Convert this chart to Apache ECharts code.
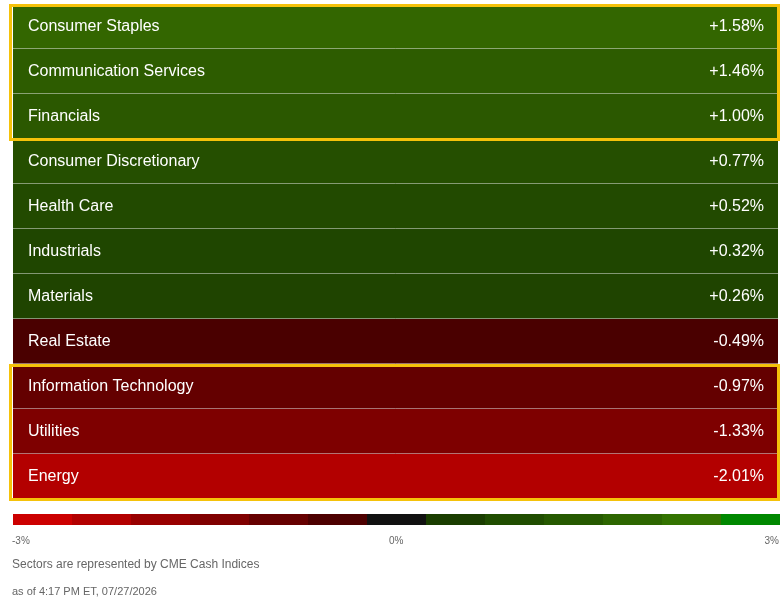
<!DOCTYPE html>
<html><head><meta charset="utf-8">
<script src="https://cdn.jsdelivr.net/npm/echarts@6/dist/echarts.min.js"></script>
<style>html,body{margin:0;padding:0;background:#fff}#c{width:784px;height:602px}</style>
</head><body><div id="c"></div>
<script>
const sectors = ['Consumer Staples','Communication Services','Financials','Consumer Discretionary','Health Care','Industrials','Materials','Real Estate','Information Technology','Utilities','Energy'];
const changes = [1.58,1.46,1.00,0.77,0.52,0.32,0.26,-0.49,-0.97,-1.33,-2.01];
const rowColors = ['#336600','#2d5c00','#2b5800','#254f00','#224a00','#1f4600','#1f4400','#4a0000','#640000','#7e0000','#b30000'];
const scaleColors = ['#cc0000','#b30000','#990000','#800000','#660000','#4d0000','#111111','#1a3d00','#204d00','#265900','#2d6600','#337300','#008800'];
const scaleLabels = ['-3%','0%','3%'];
const footer1 = 'Sectors are represented by CME Cash Indices';
const footer2 = 'as of 4:17 PM ET, 07/27/2026';

const chart = echarts.init(document.getElementById('c'));
const fmt = v => (v > 0 ? '+' : '') + v.toFixed(2) + '%';
chart.setOption({
  animation: false,
  grid: [{left:13, right:6, top:4, height:495}, {left:13, right:4, top:514, height:11}],
  xAxis: [
    {type:'value', min:0, max:1, show:false, gridIndex:0},
    {type:'category', data:scaleColors.map((c,i)=>i), show:false, gridIndex:1}
  ],
  yAxis: [
    {type:'category', data:sectors, inverse:true, show:false, gridIndex:0},
    {type:'value', min:0, max:1, show:false, gridIndex:1}
  ],
  series: [
    {
      type:'custom', xAxisIndex:0, yAxisIndex:0,
      data: changes.map((v,i)=>[i, v]),
      renderItem: (params, api) => {
        const idx = api.value(0);
        const h = api.size([0,1])[1];
        const p0 = api.coord([0, idx]);
        const p1 = api.coord([1, idx]);
        const top = p0[1] - h/2;
        const w = p1[0] - p0[0];
        return {type:'group', children:[
          {type:'rect', shape:{x:p0[0], y:top, width:w, height:h}, style:{fill:rowColors[idx]}},
          {type:'line', shape:{x1:p0[0], y1:top+h, x2:p1[0], y2:top+h}, style:{stroke:'#e8e8e8', lineWidth:1}},
          {type:'text', style:{text:sectors[idx], x:p0[0]+15, y:p0[1], fill:'#fff', font:'16px "Liberation Sans", Arial, sans-serif', verticalAlign:'middle'}},
          {type:'text', style:{text:fmt(api.value(1)), x:p1[0]-14, y:p0[1], fill:'#fff', font:'16px "Liberation Sans", Arial, sans-serif', verticalAlign:'middle', align:'right'}}
        ]};
      }
    },
    {
      type:'bar', xAxisIndex:1, yAxisIndex:1, barCategoryGap:0,
      data: scaleColors.map(c=>({value:1, itemStyle:{color:c}}))
    }
  ],
  graphic: [
    {type:'rect', shape:{x:10.5, y:5.5, width:768, height:134}, style:{fill:'none', stroke:'#f5c20a', lineWidth:3}, z:10},
    {type:'rect', shape:{x:10.5, y:365.5, width:768, height:134}, style:{fill:'none', stroke:'#f5c20a', lineWidth:3}, z:10},
    {type:'text', left:12, top:536, style:{text:scaleLabels[0], fill:'#666', font:'10px "Liberation Sans", Arial'}},
    {type:'text', left:389, top:536, style:{text:scaleLabels[1], fill:'#666', font:'10px "Liberation Sans", Arial'}},
    {type:'text', right:5, top:536, style:{text:scaleLabels[2], fill:'#666', font:'10px "Liberation Sans", Arial'}},
    {type:'text', left:12, top:559, style:{text:footer1, fill:'#666', font:'12px "Liberation Sans", Arial'}},
    {type:'text', left:12, top:586, style:{text:footer2, fill:'#666', font:'11px "Liberation Sans", Arial'}}
  ]
});
</script></body></html>
